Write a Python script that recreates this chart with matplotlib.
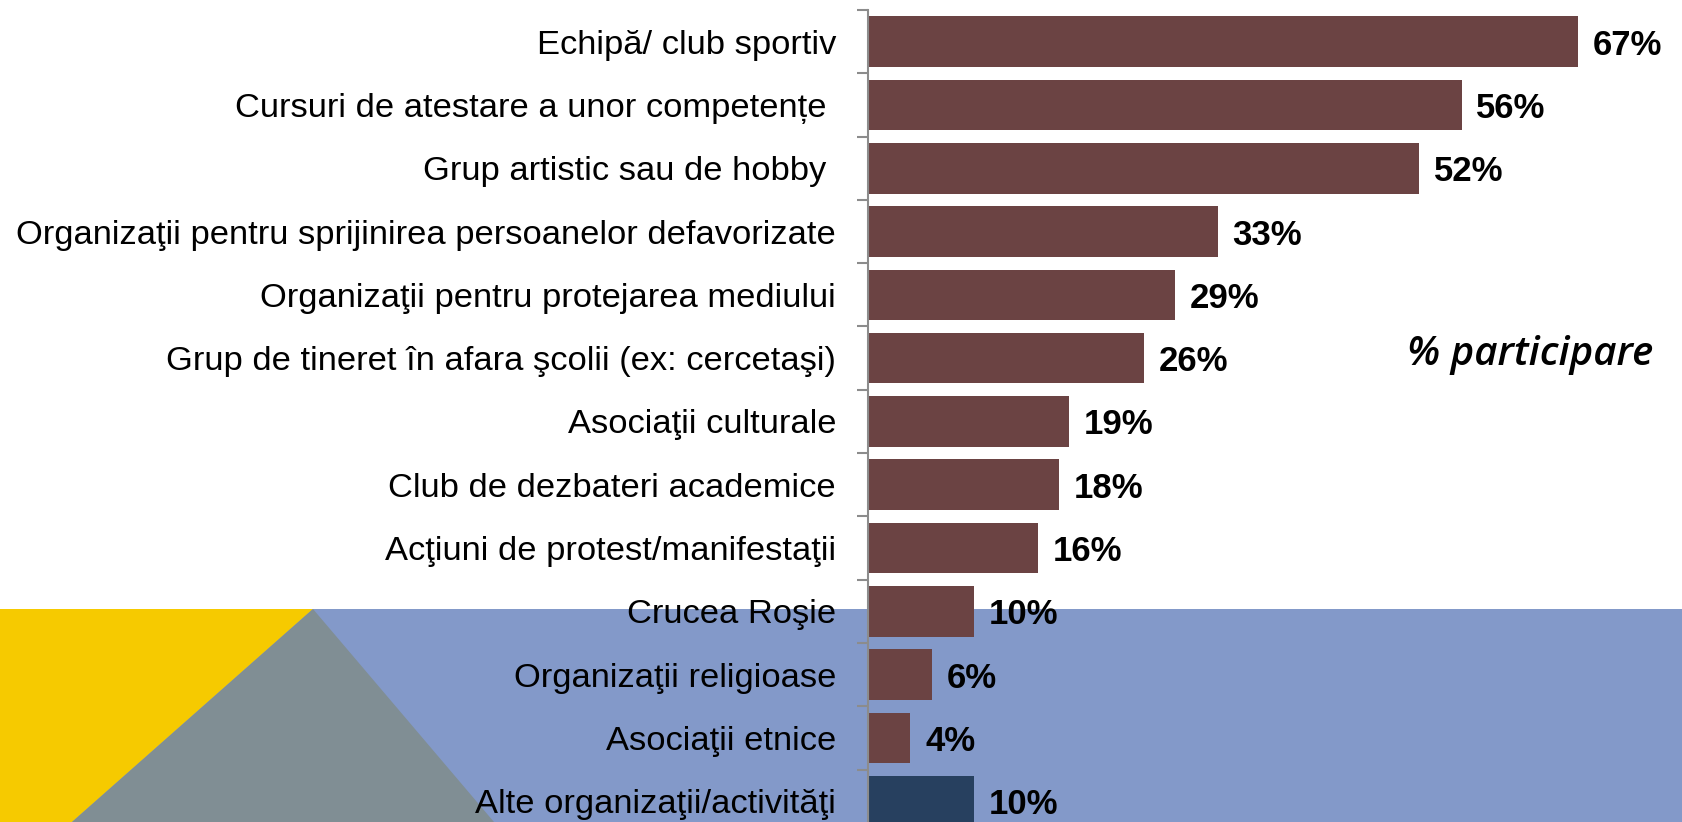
import matplotlib
matplotlib.use("Agg")
import matplotlib.pyplot as plt
from matplotlib.patches import Polygon

# Participation share by organisation type (%)
categories = [
    "Echipă/ club sportiv",
    "Cursuri de atestare a unor competențe ",
    "Grup artistic sau de hobby ",
    "Organizaţii pentru sprijinirea persoanelor defavorizate",
    "Organizaţii pentru protejarea mediului",
    "Grup de tineret în afara şcolii (ex: cercetaşi)",
    "Asociaţii culturale",
    "Club de dezbateri academice",
    "Acţiuni de protest/manifestaţii",
    "Crucea Roşie",
    "Organizaţii religioase",
    "Asociaţii etnice",
    "Alte organizaţii/activităţi",
]
values = [67, 56, 52, 33, 29, 26, 19, 18, 16, 10, 6, 4, 10]

BAR_COLOR = "#6B4343"
OTHER_COLOR = "#27405F"

W, H = 1683, 822
fig = plt.figure(figsize=(W / 100, H / 100), dpi=100)

# decorative background band along the bottom
bg = fig.add_axes([0, 0, 1, 1], zorder=0)
bg.set_xlim(0, W)
bg.set_ylim(H, 0)
bg.axis("off")
band_top = 609
bg.add_patch(Polygon([(0, band_top), (W, band_top), (W, H), (0, H)],
                     closed=True, color="#8399C9", lw=0))
bg.add_patch(Polygon([(0, band_top), (313, band_top), (72, H), (0, H)],
                     closed=True, color="#F6CA00", lw=0))
bg.add_patch(Polygon([(313, band_top), (72, H), (494, H)],
                     closed=True, color="#808E94", lw=0))

# bar chart, axis spans slightly past the bottom edge
ax_left = 868 / W
ax_top = 1 - 10 / H
ax_height = 13 * 63.3 / H
ax = fig.add_axes([ax_left, ax_top - ax_height, 1 - ax_left, ax_height], zorder=1)
ax.patch.set_alpha(0)

ypos = list(range(len(categories)))
colors = [BAR_COLOR] * (len(categories) - 1) + [OTHER_COLOR]
ax.barh(ypos, values, height=0.8, color=colors, zorder=2)
ax.set_ylim(len(categories) - 0.5, -0.5)
ax.set_xlim(0, (W - 868) / 10.6)

for y, v in zip(ypos, values):
    ax.text(v + 1.4, y, f"{v}%", va="center_baseline", ha="left",
            fontsize=25, fontweight="bold", family="Liberation Sans")

ax.set_yticks(ypos)
ax.set_yticklabels(categories, fontsize=24.8, family="Liberation Sans")
ax.tick_params(axis="y", which="major", length=0, pad=23)
ax.set_yticks([i - 0.5 for i in range(len(categories) + 1)], minor=True)
ax.tick_params(axis="y", which="minor", length=8, width=1.5, color="#8C8C8C")
ax.set_xticks([])
for side in ("top", "right", "bottom"):
    ax.spines[side].set_visible(False)
ax.spines["left"].set_color("#8C8C8C")
ax.spines["left"].set_linewidth(1.5)

fig.text(1407 / W, 1 - 355 / H, "% participare", ha="left", va="center",
         fontsize=29, fontstyle="italic", fontweight="semibold", family="Open Sans")

fig.savefig("out.png", dpi=100)
plt.close(fig)
